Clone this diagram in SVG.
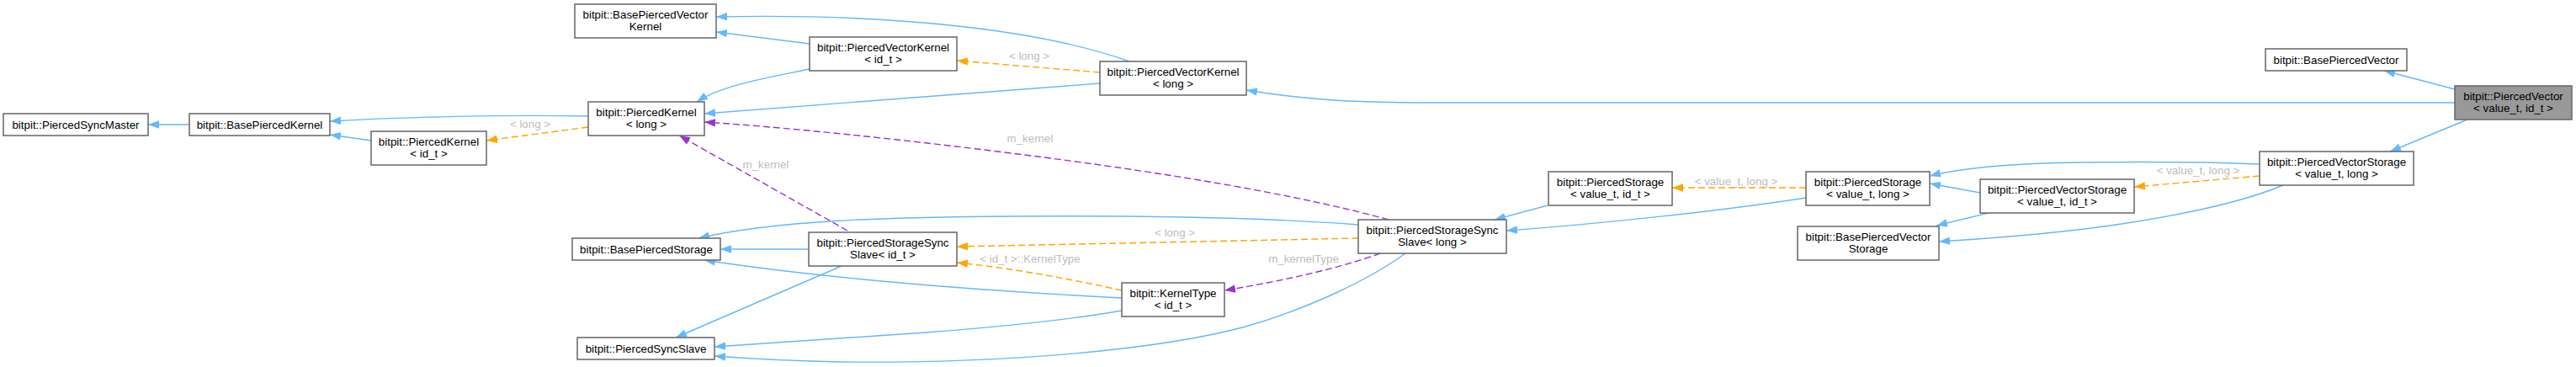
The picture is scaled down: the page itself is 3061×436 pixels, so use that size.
<svg xmlns="http://www.w3.org/2000/svg" width="3061" height="436" viewBox="0 0 3061 436">
<style>
.n rect{fill:#ffffff;stroke:#666666;stroke-width:1.5}
.n.f rect{fill:#999999}
.n text{font-family:"Liberation Sans",Arial,sans-serif;font-size:13.33px;fill:#000000;text-anchor:middle}
.e path{fill:none;stroke-width:1.4}
.b{stroke:#63b8ff}
.o{stroke:#ffa500;stroke-dasharray:8,4}
.p{stroke:#9a32cd;stroke-dasharray:8,4}
.l{font-family:"Liberation Sans",Arial,sans-serif;font-size:13.33px;fill:#bdbdbd;text-anchor:middle}
</style>
<defs>
<marker id="ab" markerUnits="userSpaceOnUse" markerWidth="14" markerHeight="10" refX="13" refY="4.75" orient="auto"><path d="M0,0 L13,4.75 L0,9.5 z" fill="#63b8ff"/></marker>
<marker id="ao" markerUnits="userSpaceOnUse" markerWidth="14" markerHeight="10" refX="13" refY="4.75" orient="auto"><path d="M0,0 L13,4.75 L0,9.5 z" fill="#ffa500"/></marker>
<marker id="ap" markerUnits="userSpaceOnUse" markerWidth="14" markerHeight="10" refX="13" refY="4.75" orient="auto"><path d="M0,0 L13,4.75 L0,9.5 z" fill="#9a32cd"/></marker>
</defs>

<g id="connectors" class="e">
<path class="b" marker-end="url(#ab)" d="M225,148 L176,148"/>
<path class="b" marker-end="url(#ab)" d="M699,138 C600,136 480,139 392,144"/>
<path class="b" marker-end="url(#ab)" d="M441,167 L392,160"/>
<path class="b" marker-end="url(#ab)" d="M962,52 L851,38"/>
<path class="b" marker-end="url(#ab)" d="M1342,73 C1230,33 1050,16 851,20"/>
<path class="b" marker-end="url(#ab)" d="M962,82 C920,91 860,100 828,121"/>
<path class="b" marker-end="url(#ab)" d="M1307,99 L837,135"/>
<path class="b" marker-end="url(#ab)" d="M2917,122 L1698,122 C1600,122 1540,117 1481,107"/>
<path class="b" marker-end="url(#ab)" d="M2917,106 L2833,84"/>
<path class="b" marker-end="url(#ab)" d="M2932,142 L2840,180"/>
<path class="b" marker-end="url(#ab)" d="M2685,195 C2640,193 2560,192 2470,193 C2390,194 2330,200 2293,209"/>
<path class="b" marker-end="url(#ab)" d="M2713,220 C2670,238 2600,255 2500,269 C2420,280 2350,284 2304,287"/>
<path class="b" marker-end="url(#ab)" d="M2353,229 L2293,218"/>
<path class="b" marker-end="url(#ab)" d="M2363,253 L2301,268"/>
<path class="b" marker-end="url(#ab)" d="M1839,244 L1776,261"/>
<path class="b" marker-end="url(#ab)" d="M2146,235 C2050,250 1900,266 1790,274"/>
<path class="b" marker-end="url(#ab)" d="M1614,267 C1500,258 1350,256 1200,257 C1050,258 920,262 830,283"/>
<path class="b" marker-end="url(#ab)" d="M1670,301 C1630,330 1560,365 1480,388 C1380,415 1200,432 1000,430 C940,429 890,426 849,423"/>
<path class="b" marker-end="url(#ab)" d="M961,296 L856,296"/>
<path class="b" marker-end="url(#ab)" d="M1000,316 L803,401"/>
<path class="b" marker-end="url(#ab)" d="M1333,354 C1200,347 1000,334 837,309"/>
<path class="b" marker-end="url(#ab)" d="M1333,369 C1270,380 1180,389 1100,395 C1000,402 900,408 849,412"/>

<path class="o" marker-end="url(#ao)" d="M699,151 L578,167"/>
<path class="o" marker-end="url(#ao)" d="M1307,86 L1137,72"/>
<path class="o" marker-end="url(#ao)" d="M1614,283 L1137,293"/>
<path class="o" marker-end="url(#ao)" d="M1333,345 C1280,333 1200,318 1137,312"/>
<path class="o" marker-end="url(#ao)" d="M2146,223 L1987,223"/>
<path class="o" marker-end="url(#ao)" d="M2685,209 L2536,222"/>

<path class="p" marker-end="url(#ap)" d="M1650,261 C1560,236 1430,213 1300,195 C1150,174 950,152 837,145"/>
<path class="p" marker-end="url(#ap)" d="M1007,274 L807,161"/>
<path class="p" marker-end="url(#ap)" d="M1640,301 C1600,316 1530,333 1455,345"/>

<text class="l" x="630" y="152">&lt; long &gt;</text>
<text class="l" x="1223" y="71">&lt; long &gt;</text>
<text class="l" x="1396" y="281">&lt; long &gt;</text>
<text class="l" x="1224" y="312">&lt; id_t &gt;::KernelType</text>
<text class="l" x="2063" y="220">&lt; value_t, long &gt;</text>
<text class="l" x="2612" y="207">&lt; value_t, long &gt;</text>
<text class="l" x="1224" y="169">m_kernel</text>
<text class="l" x="910" y="200">m_kernel</text>
<text class="l" x="1549" y="312">m_kernelType</text>
</g>

<g id="PiercedSyncMaster" class="n"><rect x="4" y="135" width="172" height="26"/><text x="90" y="152.5">bitpit::PiercedSyncMaster</text></g>
<g id="BasePiercedKernel" class="n"><rect x="225" y="135" width="167" height="26"/><text x="308.5" y="152.5">bitpit::BasePiercedKernel</text></g>
<g id="PiercedKernel_id_t" class="n"><rect x="441" y="156" width="137" height="40"/><text x="509.5" y="172.5">bitpit::PiercedKernel</text><text x="509.5" y="186.5">&lt; id_t &gt;</text></g>
<g id="PiercedKernel_long" class="n"><rect x="699" y="121" width="138" height="40"/><text x="768" y="137.5">bitpit::PiercedKernel</text><text x="768" y="151.5">&lt; long &gt;</text></g>
<g id="BasePiercedVectorKernel" class="n"><rect x="683" y="5" width="168" height="40"/><text x="767" y="21.5">bitpit::BasePiercedVector</text><text x="767" y="35.5">Kernel</text></g>
<g id="PiercedVectorKernel_id_t" class="n"><rect x="962" y="44" width="175" height="40"/><text x="1049.5" y="60.5">bitpit::PiercedVectorKernel</text><text x="1049.5" y="74.5">&lt; id_t &gt;</text></g>
<g id="PiercedVectorKernel_long" class="n"><rect x="1307" y="73" width="174" height="40"/><text x="1394" y="89.5">bitpit::PiercedVectorKernel</text><text x="1394" y="103.5">&lt; long &gt;</text></g>
<g id="BasePiercedStorage" class="n"><rect x="680" y="283" width="176" height="26"/><text x="768" y="300.5">bitpit::BasePiercedStorage</text></g>
<g id="PiercedStorageSyncSlave_id_t" class="n"><rect x="961" y="276" width="176" height="40"/><text x="1049" y="292.5">bitpit::PiercedStorageSync</text><text x="1049" y="306.5">Slave&lt; id_t &gt;</text></g>
<g id="KernelType_id_t" class="n"><rect x="1333" y="336" width="122" height="40"/><text x="1394" y="352.5">bitpit::KernelType</text><text x="1394" y="366.5">&lt; id_t &gt;</text></g>
<g id="PiercedSyncSlave" class="n"><rect x="686" y="401" width="163" height="26"/><text x="767.5" y="418.5">bitpit::PiercedSyncSlave</text></g>
<g id="PiercedStorageSyncSlave_long" class="n"><rect x="1614" y="261" width="176" height="40"/><text x="1702" y="277.5">bitpit::PiercedStorageSync</text><text x="1702" y="291.5">Slave&lt; long &gt;</text></g>
<g id="PiercedStorage_id_t" class="n"><rect x="1840" y="204" width="147" height="40"/><text x="1913.5" y="220.5">bitpit::PiercedStorage</text><text x="1913.5" y="234.5">&lt; value_t, id_t &gt;</text></g>
<g id="PiercedStorage_long" class="n"><rect x="2146" y="204" width="147" height="40"/><text x="2219.5" y="220.5">bitpit::PiercedStorage</text><text x="2219.5" y="234.5">&lt; value_t, long &gt;</text></g>
<g id="PiercedVectorStorage_id_t" class="n"><rect x="2353" y="213" width="183" height="40"/><text x="2444.5" y="229.5">bitpit::PiercedVectorStorage</text><text x="2444.5" y="243.5">&lt; value_t, id_t &gt;</text></g>
<g id="BasePiercedVectorStorage" class="n"><rect x="2136" y="269" width="168" height="40"/><text x="2220" y="285.5">bitpit::BasePiercedVector</text><text x="2220" y="299.5">Storage</text></g>
<g id="PiercedVectorStorage_long" class="n"><rect x="2685" y="180" width="183" height="40"/><text x="2776.5" y="196.5">bitpit::PiercedVectorStorage</text><text x="2776.5" y="210.5">&lt; value_t, long &gt;</text></g>
<g id="BasePiercedVector" class="n"><rect x="2692" y="58" width="168" height="26"/><text x="2776" y="75.5">bitpit::BasePiercedVector</text></g>
<g id="PiercedVector" class="n f"><rect x="2917" y="102" width="139" height="40"/><text x="2986.5" y="118.5">bitpit::PiercedVector</text><text x="2986.5" y="132.5">&lt; value_t, id_t &gt;</text></g>
</svg>
